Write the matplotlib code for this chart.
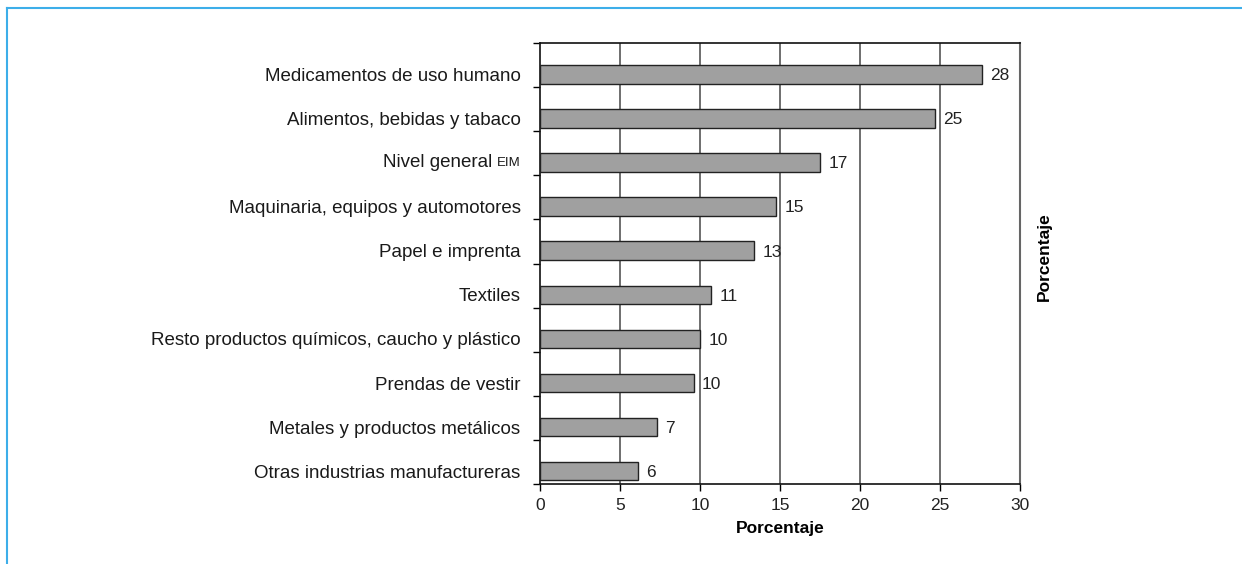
import matplotlib
matplotlib.use("Agg")
import matplotlib.pyplot as plt
from matplotlib.lines import Line2D
import numpy as np

# datos
categorias = [
    "Medicamentos de uso humano",
    "Alimentos, bebidas y tabaco",
    "Nivel general",
    "Maquinaria, equipos y automotores",
    "Papel e imprenta",
    "Textiles",
    "Resto productos químicos, caucho y plástico",
    "Prendas de vestir",
    "Metales y productos metálicos",
    "Otras industrias manufactureras",
]
valores = [27.6, 24.7, 17.5, 14.75, 13.4, 10.7, 10.0, 9.6, 7.3, 6.1]
etiquetas = ["28", "25", "17", "15", "13", "11", "10", "10", "7", "6"]
x_ticks = [0, 5, 10, 15, 20, 25, 30]

plt.rcParams['font.family'] = ['Liberation Sans', 'DejaVu Sans']
COLOR_TXT = '#1a1a1a'

fig = plt.figure(figsize=(12.42, 5.64), dpi=100)
ax = fig.add_axes([540 / 1242, 1 - 484 / 564, 480 / 1242, 441 / 564])

n = len(categorias)
pos = np.arange(n) + 0.71
ax.barh(pos, valores, height=0.42, color='#a0a0a0', edgecolor='#222222',
        linewidth=1.0, zorder=3)

for p, v, t in zip(pos, valores, etiquetas):
    ax.annotate(t, xy=(v, p), xytext=(6, -1), textcoords='offset points',
                va='center', ha='left', fontsize=12.5, color='#222222')

ax.set_xlim(0, 30)
ax.set_ylim(n, 0)
ax.set_xticks(x_ticks)
ax.set_xticklabels([str(t) for t in x_ticks], fontsize=12.5, color='#222222')
ax.tick_params(axis='x', direction='out', length=5, width=1, pad=5)

# etiquetas de categoría (la de "Nivel general" se dibuja aparte por el EIM)
ylabels = list(categorias)
ylabels[2] = ""
ax.set_yticks(pos)
ax.set_yticklabels(ylabels, fontsize=13.5, color=COLOR_TXT)
ax.tick_params(axis='y', which='major', length=0, pad=14)
ax.set_yticks(np.arange(n + 1), minor=True)
ax.tick_params(axis='y', which='minor', direction='out', length=5, width=1)

pad_px = 14 * 100 / 72
eim = ax.annotate("EIM", xy=(0, pos[2]), xycoords=('axes fraction', 'data'),
                  xytext=(-pad_px, 0), textcoords='offset pixels', ha='right',
                  va='center', fontsize=9.5, color=COLOR_TXT)
fig.canvas.draw()
w_eim = eim.get_window_extent(fig.canvas.get_renderer()).width
ax.annotate(categorias[2], xy=(0, pos[2]), xycoords=('axes fraction', 'data'),
            xytext=(-pad_px - w_eim - 5, 0), textcoords='offset pixels',
            ha='right', va='center', fontsize=13.5, color=COLOR_TXT)

for x in x_ticks[1:-1]:
    ax.axvline(x, color='#555555', linewidth=1.2, zorder=1)

for s in ['left', 'bottom', 'top']:
    ax.spines[s].set_color('#111111')
    ax.spines[s].set_linewidth(1.2)
ax.spines['right'].set_color('#666666')
ax.spines['right'].set_linewidth(1.5)

ax.set_xlabel("Porcentaje", fontsize=12.5, fontweight='bold', labelpad=6)
ax.text(1.05, 0.515, "Porcentaje", transform=ax.transAxes, rotation=90,
        ha='center', va='center', fontsize=12.5, fontweight='bold')

# marco azul
fig.add_artist(Line2D([7 / 1242, 1], [1 - 8 / 564, 1 - 8 / 564],
                      transform=fig.transFigure, color='#3daee9', linewidth=1.5))
fig.add_artist(Line2D([7 / 1242, 7 / 1242], [0, 1 - 8 / 564],
                      transform=fig.transFigure, color='#3daee9', linewidth=1.5))

fig.savefig("out.png", dpi=100, facecolor='white')
